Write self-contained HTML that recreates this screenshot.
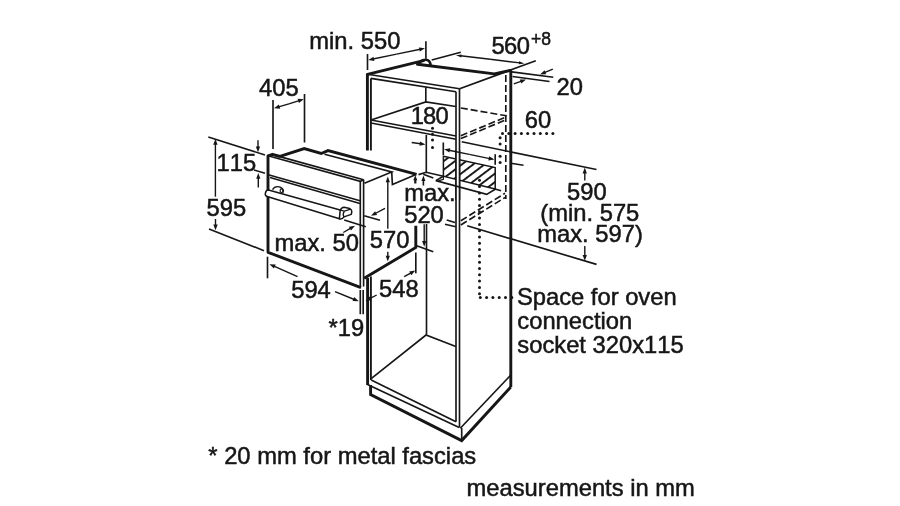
<!DOCTYPE html>
<html lang="en"><head><meta charset="utf-8"><title>Built-in oven installation dimensions</title>
<style>
html,body{margin:0;padding:0;background:#fff;}
body{width:900px;height:506px;overflow:hidden;}
svg{display:block;will-change:transform;}
svg path{fill:none;stroke:#161616;}
svg .a{fill:#161616;stroke:none;}
svg text{font-family:"Liberation Sans",Arial,Helvetica,sans-serif;fill:#161616;stroke:#161616;stroke-width:0.5px;font-kerning:none;}
</style></head>
<body>
<svg width="900" height="506" viewBox="0 0 900 506">
<rect width="900" height="506" fill="#fff"/>
<text x="309.3" y="49.2" font-size="23.75">min. 550</text>
<text x="491.4" y="54.2" font-size="23.75"><tspan letter-spacing="-0.55">560</tspan><tspan font-size="17.5" dy="-9.3" dx="1.6">+8</tspan></text>
<text x="556.5" y="95.0" font-size="23.75">20</text>
<text x="259.0" y="95.8" font-size="23.75">405</text>
<text x="410.8" y="124.2" font-size="23.75" letter-spacing="-0.9">180</text>
<text x="524.8" y="127.5" font-size="23.75">60</text>
<text x="216.6" y="170.5" font-size="23.75">115</text>
<text x="206.5" y="216.2" font-size="23.75">595</text>
<text x="274.4" y="250.8" font-size="23.75">max. 50</text>
<text x="369.8" y="248.3" font-size="23.75">570</text>
<text x="404.2" y="200.6" font-size="23.75">max.</text>
<text x="404.2" y="222.5" font-size="23.75">520</text>
<text x="567.0" y="200.0" font-size="23.75">590</text>
<text x="540.3" y="221.3" font-size="23.75">(min. 575</text>
<text x="537.2" y="241.5" font-size="23.75">max. 597)</text>
<text x="291.2" y="298.2" font-size="23.75">594</text>
<text x="379.0" y="296.7" font-size="23.75">548</text>
<text x="328.5" y="335.5" font-size="23.75">*19</text>
<text x="516.9" y="305.2" font-size="23.75">Space for oven</text>
<text x="517.3" y="329.4" font-size="23.75">connection</text>
<text x="517.3" y="353.0" font-size="23.75">socket 320x115</text>
<text x="208.3" y="464.0" font-size="23.75">* 20 mm for metal fascias</text>
<text x="466.5" y="496.0" font-size="23.75">measurements in mm</text>
<path d="M367.4 74.3 L423.5 60.6" stroke-width="2.9" stroke-linecap="round"/>
<path d="M417.5 64.3 L494.2 73.9 L510.4 70.4" stroke-width="2.9" stroke-linecap="round" stroke-linejoin="round"/>
<path d="M418.5 63.6 Q421.5 59.6 426.3 59.7 Q430.2 60.2 430.6 65.4" stroke-width="2.6" stroke-linecap="round"/>
<path d="M367.4 74.3 L459.6 88.7" stroke-width="1.65"/>
<path d="M370.9 78.4 L456.0 91.7" stroke-width="1.65"/>
<path d="M459.6 88.7 L535.8 60.8" stroke-width="1.65"/>
<path d="M367.4 74.3 L367.4 150.5" stroke-width="2.9"/>
<path d="M370.9 78.4 L370.9 150.5" stroke-width="1.9"/>
<path d="M367.6 278.0 L367.6 385.0" stroke-width="2.9"/>
<path d="M370.9 276.5 L370.9 380.0" stroke-width="1.9"/>
<path d="M456.0 91.7 L456.0 421.7" stroke-width="1.65"/>
<path d="M459.5 88.7 L459.5 427.5" stroke-width="1.65"/>
<path d="M510.8 70.6 L510.8 387.0" stroke-width="2.9"/>
<path d="M505.8 75.0 L505.8 199.0" stroke-width="1.65" stroke-dasharray="7 3"/>
<path d="M425.8 87.2 L425.8 102.0" stroke-width="1.65"/>
<path d="M426.3 135.0 L426.3 172.3" stroke-width="1.65"/>
<path d="M426.5 224.0 L426.5 334.7" stroke-width="1.65"/>
<path d="M371.0 120.0 L456.0 136.0" stroke-width="1.65"/>
<path d="M371.0 123.0 L456.0 139.3" stroke-width="1.65"/>
<path d="M371.0 120.0 L425.8 101.9 L455.8 106.5" stroke-width="1.65"/>
<path d="M460.8 108.0 L506.7 115.8" stroke-width="1.65" stroke-dasharray="7 3"/>
<path d="M460.8 135.8 L506.7 116.7" stroke-width="1.65" stroke-dasharray="7 3"/>
<path d="M460.8 138.6 L506.7 119.5" stroke-width="1.65" stroke-dasharray="7 3"/>
<path d="M460.8 220.8 L505.0 193.3" stroke-width="1.65" stroke-dasharray="7 3"/>
<path d="M460.8 225.0 L505.0 197.5" stroke-width="1.65" stroke-dasharray="7 3"/>
<path d="M446.7 220.0 L455.0 222.5" stroke-width="1.65"/>
<path d="M445.0 224.2 L455.8 226.7" stroke-width="1.65"/>
<path d="M371.5 378.3 L426.0 335.0 L455.8 346.5" stroke-width="1.65"/>
<path d="M367.5 384.5 L459.2 427.5" stroke-width="1.65"/>
<path d="M371.2 380.0 L456.0 421.7" stroke-width="1.65"/>
<path d="M370.6 385.0 L370.6 394.5 L461.7 440.6 L510.8 387.0" stroke-width="2.9"/>
<path d="M461.7 428.0 L461.7 440.6" stroke-width="1.65"/>
<path d="M460.3 428.3 L510.8 375.0" stroke-width="1.65"/>
<defs><pattern id="h" width="6.8" height="6.8" patternUnits="userSpaceOnUse" patternTransform="translate(472.5 163.75) rotate(-37)"><rect width="6.8" height="1.9" fill="#161616"/></pattern></defs>
<polygon points="443.4,156.3 495.2,167.5 495.2,189.1 443.4,176.2" fill="url(#h)" stroke="#161616" stroke-width="1.5"/>
<rect x="456" y="150" width="3.5" height="50" style="fill:#fff"/>
<path d="M456.0 150.0 L456.0 200.0" stroke-width="1.65"/>
<path d="M459.5 150.0 L459.5 200.0" stroke-width="1.65"/>
<path d="M435.8 180.6 L486.7 194.4 L495.2 189.3" stroke-width="1.65"/>
<path d="M423.3 174.2 L433.3 178.1" stroke-width="1.65"/>
<path d="M418.5 174.6 L426.1 172.3 L443.4 176.2" stroke-width="1.65"/>
<path d="M443.4 176.2 L435.8 180.6" stroke-width="1.65"/>
<path d="M438.3 180.9 L443.4 179.2 L443.4 176.0" stroke-width="1.2"/>
<path d="M495.0 189.0 L501.1 190.8" stroke-width="1.65"/>
<circle class="a" cx="502.5" cy="133.5" r="1.5"/>
<circle class="a" cx="508.8" cy="133.5" r="1.5"/>
<circle class="a" cx="515.1" cy="133.5" r="1.5"/>
<circle class="a" cx="521.4" cy="133.5" r="1.5"/>
<circle class="a" cx="527.7" cy="133.5" r="1.5"/>
<circle class="a" cx="534.0" cy="133.5" r="1.5"/>
<circle class="a" cx="540.3" cy="133.5" r="1.5"/>
<circle class="a" cx="546.6" cy="133.5" r="1.5"/>
<circle class="a" cx="552.9" cy="133.5" r="1.5"/>
<circle class="a" cx="500.1" cy="137.7" r="1.5"/>
<circle class="a" cx="500.1" cy="143.9" r="1.5"/>
<circle class="a" cx="500.1" cy="156.3" r="1.5"/>
<circle class="a" cx="500.1" cy="162.5" r="1.5"/>
<circle class="a" cx="432.5" cy="128.3" r="1.5"/>
<circle class="a" cx="432.5" cy="134.2" r="1.5"/>
<circle class="a" cx="432.5" cy="140.0" r="1.5"/>
<circle class="a" cx="432.5" cy="147.5" r="1.5"/>
<circle class="a" cx="479.5" cy="180.3" r="1.5"/>
<circle class="a" cx="479.5" cy="186.6" r="1.5"/>
<circle class="a" cx="479.5" cy="192.9" r="1.5"/>
<circle class="a" cx="479.5" cy="199.2" r="1.5"/>
<circle class="a" cx="479.5" cy="205.5" r="1.5"/>
<circle class="a" cx="479.5" cy="211.8" r="1.5"/>
<circle class="a" cx="479.5" cy="218.1" r="1.5"/>
<circle class="a" cx="479.5" cy="224.4" r="1.5"/>
<circle class="a" cx="479.5" cy="230.7" r="1.5"/>
<circle class="a" cx="479.5" cy="237.0" r="1.5"/>
<circle class="a" cx="479.5" cy="243.3" r="1.5"/>
<circle class="a" cx="479.5" cy="249.6" r="1.5"/>
<circle class="a" cx="479.5" cy="255.9" r="1.5"/>
<circle class="a" cx="479.5" cy="262.2" r="1.5"/>
<circle class="a" cx="479.5" cy="268.5" r="1.5"/>
<circle class="a" cx="479.5" cy="274.8" r="1.5"/>
<circle class="a" cx="479.5" cy="281.1" r="1.5"/>
<circle class="a" cx="479.5" cy="287.4" r="1.5"/>
<circle class="a" cx="479.5" cy="293.7" r="1.5"/>
<circle class="a" cx="480.3" cy="297.6" r="1.5"/>
<circle class="a" cx="486.6" cy="297.6" r="1.5"/>
<circle class="a" cx="492.9" cy="297.6" r="1.5"/>
<circle class="a" cx="499.2" cy="297.6" r="1.5"/>
<circle class="a" cx="505.5" cy="297.6" r="1.5"/>
<circle class="a" cx="511.8" cy="297.6" r="1.5"/>
<path d="M280.0 156.5 L272.5 154.3 L268.0 155.8 L268.0 252.3 L361.0 287.6" stroke-width="2.9" stroke-linejoin="round"/>
<path d="M364.2 278.3 L415.8 247.5 L415.8 225.8" stroke-width="2.9"/>
<path d="M360.3 181.3 L360.3 287.0" stroke-width="1.65"/>
<path d="M363.6 179.7 L363.6 286.5" stroke-width="1.65"/>
<path d="M268.0 155.8 L360.3 181.3 L363.6 179.7" stroke-width="1.65"/>
<path d="M272.5 154.6 L363.6 179.7" stroke-width="1.65"/>
<path d="M268.3 174.7 L360.0 200.8" stroke-width="1.65"/>
<path d="M270.0 177.5 L360.0 203.5" stroke-width="1.65"/>
<path d="M268.5 190.1 L341 210.3 L339.4 218.8 L268 196.8 Q264.6 196 265.4 193 Q266 190 268.5 190.1Z" style="fill:#fff" stroke-width="1.55" stroke-linejoin="round"/>
<path d="M272.5 189.6 Q274.2 186.4 278 186.6 Q282.6 187.4 283.4 190.6 L282.9 192.9" stroke-width="1.4"/>
<ellipse cx="281.5" cy="190.7" rx="1.4" ry="1.8" style="fill:none;stroke:#161616" stroke-width="1.2"/>
<path d="M339.4 218.8 L340.2 210.2 Q341.5 207.3 344 207.2 L349.8 208.6 Q351.8 209.6 351.8 211.5 L351.3 214.4 L344 216.9 Q341.5 219.6 339.4 218.8Z" style="fill:#fff" stroke-width="1.5" stroke-linejoin="round"/>
<path d="M340.2 210.2 L344.5 211.2 L350.6 209.2 M344.5 211.2 Q342.2 214 343.9 216.9" stroke-width="1.3"/>
<path d="M280.0 156.3 L304.2 148.6 L321.2 153.5 L328.0 150.6 L416.6 174.4" stroke-width="2.9"/>
<path d="M324.5 154.2 L391.7 171.9 L364.4 183.2" stroke-width="1.65"/>
<path d="M391.7 171.9 L392.4 184.5 L416.0 174.6" stroke-width="1.65"/>
<path d="M367.5 54.0 L367.5 70.0" stroke-width="1.65"/>
<path d="M425.9 41.3 L425.9 58.8" stroke-width="1.65"/>
<path d="M396.6 54.1 L373.0 59.0" stroke-width="1.4"/>
<polygon class="a" points="368.3,60.0 373.5,56.7 374.4,60.9"/>
<path d="M396.6 54.1 L420.3 49.3" stroke-width="1.4"/>
<polygon class="a" points="425.0,48.3 419.8,51.6 418.9,47.4"/>
<path d="M431.7 60.0 L460.8 52.2" stroke-width="1.65"/>
<path d="M490.2 59.3 L460.5 55.8" stroke-width="1.4"/>
<polygon class="a" points="456.0,55.3 461.6,54.5 461.3,57.4"/>
<path d="M490.2 59.3 L519.9 62.9" stroke-width="1.4"/>
<polygon class="a" points="524.4,63.4 518.8,64.2 519.1,61.3"/>
<path d="M511.7 71.9 L553.3 77.3" stroke-width="1.65"/>
<path d="M512.5 76.5 L549.5 81.5" stroke-width="1.65"/>
<path d="M552.8 69.2 L544.4 72.6" stroke-width="1.4"/>
<polygon class="a" points="540.0,74.4 544.6,70.2 546.2,74.2"/>
<path d="M513.8 83.9 L521.5 81.1" stroke-width="1.4"/>
<polygon class="a" points="526.0,79.4 521.3,83.4 519.8,79.4"/>
<path d="M273.0 100.0 L273.0 149.0" stroke-width="1.65"/>
<path d="M304.5 94.0 L304.5 142.5" stroke-width="1.65"/>
<path d="M288.9 103.8 L278.6 106.9" stroke-width="1.4"/>
<polygon class="a" points="274.0,108.3 278.9,104.5 280.2,108.7"/>
<path d="M288.9 103.8 L299.2 100.6" stroke-width="1.4"/>
<polygon class="a" points="303.8,99.2 298.9,103.0 297.6,98.8"/>
<path d="M208.3 137.0 L265.0 155.0" stroke-width="1.65"/>
<path d="M254.0 170.0 L265.0 173.3" stroke-width="1.65"/>
<path d="M215.4 196.7 L215.4 143.8" stroke-width="1.4"/>
<polygon class="a" points="215.4,139.0 217.6,144.8 213.2,144.8"/>
<path d="M215.5 219.0 L215.5 225.5" stroke-width="1.4"/>
<polygon class="a" points="215.5,230.3 213.3,224.5 217.7,224.5"/>
<path d="M258.0 140.3 L258.0 147.5" stroke-width="1.4"/>
<polygon class="a" points="258.0,152.3 255.8,146.5 260.1,146.5"/>
<path d="M258.3 187.5 L258.3 177.8" stroke-width="1.4"/>
<polygon class="a" points="258.3,173.0 260.4,178.8 256.2,178.8"/>
<path d="M209.0 228.9 L264.0 250.7" stroke-width="1.65"/>
<path d="M267.5 256.7 L267.5 278.3" stroke-width="1.65"/>
<path d="M297.5 276.7 L273.9 266.2" stroke-width="1.4"/>
<polygon class="a" points="269.5,264.2 275.7,264.6 273.9,268.5"/>
<path d="M335.0 291.7 L354.3 299.5" stroke-width="1.4"/>
<polygon class="a" points="358.8,301.3 352.6,301.1 354.2,297.1"/>
<path d="M360.3 290.0 L360.3 314.2" stroke-width="1.65"/>
<path d="M363.2 290.0 L363.2 314.2" stroke-width="1.65"/>
<path d="M376.7 295.0 L369.7 298.7" stroke-width="1.4"/>
<polygon class="a" points="365.5,301.0 369.6,296.4 371.6,300.2"/>
<path d="M415.8 252.5 L415.8 273.3" stroke-width="1.65"/>
<path d="M404.2 276.7 L411.1 272.8" stroke-width="1.4"/>
<polygon class="a" points="415.3,270.5 411.3,275.2 409.2,271.5"/>
<path d="M387.8 228.8 L387.8 181.2" stroke-width="1.4"/>
<polygon class="a" points="387.8,176.4 389.9,182.2 385.7,182.2"/>
<path d="M387.8 251.7 L387.8 256.7" stroke-width="1.4"/>
<polygon class="a" points="387.8,261.5 385.7,255.7 389.9,255.7"/>
<path d="M385.0 208.3 L375.2 213.5" stroke-width="1.4"/>
<polygon class="a" points="371.0,215.8 375.1,211.2 377.1,215.0"/>
<path d="M364.2 215.8 L380.0 220.3" stroke-width="1.65"/>
<path d="M343.3 232.5 L350.8 228.2" stroke-width="1.4"/>
<polygon class="a" points="355.0,225.8 351.0,230.5 348.9,226.8"/>
<path d="M344.2 220.0 L365.8 226.7" stroke-width="1.65"/>
<path d="M415.3 183.5 L415.3 179.2" stroke-width="2.2"/>
<polygon class="a" points="415.3,175.2 417.3,180.2 413.3,180.2"/>
<path d="M423.4 185.5 L423.4 180.0" stroke-width="1.6"/>
<polygon class="a" points="423.4,175.5 425.4,181.0 421.4,181.0"/>
<path d="M424.2 224.2 L424.2 241.9" stroke-width="1.4"/>
<polygon class="a" points="424.2,246.7 422.1,240.9 426.3,240.9"/>
<path d="M416.7 245.8 L433.3 251.7" stroke-width="1.65"/>
<path d="M411.7 142.5 L420.7 143.7" stroke-width="1.4"/>
<polygon class="a" points="425.5,144.4 419.5,145.7 420.0,141.5"/>
<path d="M443.3 142.5 L443.3 155.0" stroke-width="1.65"/>
<path d="M469.3 154.4 L448.9 150.2" stroke-width="1.4"/>
<polygon class="a" points="444.2,149.2 450.3,148.3 449.4,152.5"/>
<path d="M469.3 154.4 L489.7 158.6" stroke-width="1.4"/>
<polygon class="a" points="494.4,159.6 488.3,160.5 489.2,156.3"/>
<path d="M495.2 154.2 L495.2 164.8" stroke-width="1.65"/>
<path d="M510.8 163.2 L523.5 165.3" stroke-width="1.65"/>
<path d="M461.7 141.8 L596.5 169.5" stroke-width="1.65"/>
<path d="M467.2 225.8 L596.5 264.4" stroke-width="1.65"/>
<path d="M584.8 180.5 L584.8 172.4" stroke-width="1.4"/>
<polygon class="a" points="584.8,167.6 586.9,173.4 582.6,173.4"/>
<path d="M584.8 246.0 L584.8 256.0" stroke-width="1.4"/>
<polygon class="a" points="584.8,260.8 582.6,255.0 586.9,255.0"/>
</svg>
</body></html>
